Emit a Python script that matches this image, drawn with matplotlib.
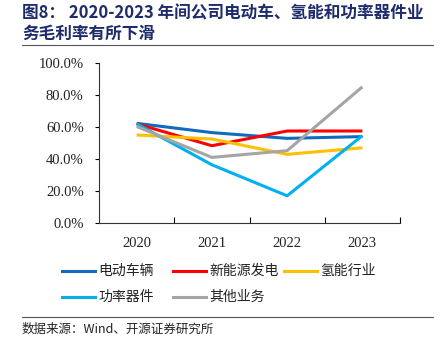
import matplotlib
matplotlib.use("Agg")
import matplotlib.pyplot as plt
from matplotlib.lines import Line2D
from matplotlib.ticker import FuncFormatter, FixedLocator

plt.rcParams['font.family'] = ['Noto Sans CJK SC', 'DejaVu Sans']

# 数据
years = ['2020', '2021', '2022', '2023']
ev = [62.3, 56.5, 52.9, 54.0]        # 电动车辆
newenergy = [62.0, 48.3, 57.5, 57.5] # 新能源发电
hydrogen = [55.0, 52.5, 42.9, 47.0]  # 氢能行业
power = [62.0, 36.4, 17.0, 54.6]     # 功率器件
other = [60.3, 41.0, 45.2, 85.1]     # 其他业务

series = [
    ('电动车辆', ev, '#0F6CBD'),
    ('新能源发电', newenergy, '#FF0000'),
    ('氢能行业', hydrogen, '#FFC000'),
    ('功率器件', power, '#00B0F0'),
    ('其他业务', other, '#A5A5A5'),
]

W, H = 442, 344
fig = plt.figure(figsize=(W / 100, H / 100), dpi=100)
ax = fig.add_axes([99 / W, 1 - 223 / H, (400 - 99) / W, (223 - 63) / H])

x = range(len(years))
for name, vals, color in series:
    ax.plot(x, vals, color=color, linewidth=2.2, solid_capstyle='butt')

ax.set_xlim(-0.5, 3.5)
ax.set_ylim(0, 100)
ax.set_yticks([0, 20, 40, 60, 80, 100])
ax.yaxis.set_major_formatter(FuncFormatter(lambda v, p: f'{v:.1f}%'))
ax.set_xticks(list(x))
ax.set_xticklabels(years)
ax.xaxis.set_minor_locator(FixedLocator([0.5, 1.5, 2.5, 3.5]))
ax.tick_params(axis='x', which='major', length=0, pad=10)
ax.tick_params(axis='x', which='minor', direction='in', length=4, width=0.8)
ax.tick_params(axis='y', direction='out', length=3, width=0.8, pad=8)
for lab in ax.get_xticklabels() + ax.get_yticklabels():
    lab.set_fontfamily('Liberation Serif')
    lab.set_fontsize(10.5)
    lab.set_color('#222222')
ax.spines['top'].set_visible(False)
ax.spines['right'].set_visible(False)
for s in ('left', 'bottom'):
    ax.spines[s].set_color('#333333')
    ax.spines[s].set_linewidth(0.8)

# 标题
title_color = '#1F2C6B'
fig.text(22 / W, 1 - 13 / H, '图8： 2020-2023 年间公司电动车、氢能和功率器件业',
         fontsize=12, fontweight='bold', color=title_color, va='center', ha='left')
fig.text(22 / W, 1 - 34 / H, '务毛利率有所下滑',
         fontsize=12, fontweight='bold', color=title_color, va='center', ha='left')
fig.add_artist(Line2D([22 / W, 433 / W], [1 - 45 / H, 1 - 45 / H], color='#555555', linewidth=0.8))

# 图例
legend_pos = [(62, 271), (173, 271), (284, 271), (62, 297), (173, 297)]
for (name, vals, color), (lx, ly) in zip(series, legend_pos):
    fig.add_artist(Line2D([lx / W, (lx + 33) / W], [1 - ly / H, 1 - ly / H],
                          color=color, linewidth=2.2))
    fig.text((lx + 36) / W, 1 - ly / H, name, fontsize=10, va='center', ha='left',
             color='#222222')

# 来源
fig.add_artist(Line2D([22 / W, 433 / W], [1 - 317 / H, 1 - 317 / H], color='#555555', linewidth=0.8))
fig.text(22 / W, 1 - 329 / H, '数据来源：Wind、开源证券研究所', fontsize=9, va='center', ha='left',
         color='#222222')

fig.savefig('out.png', dpi=100)
